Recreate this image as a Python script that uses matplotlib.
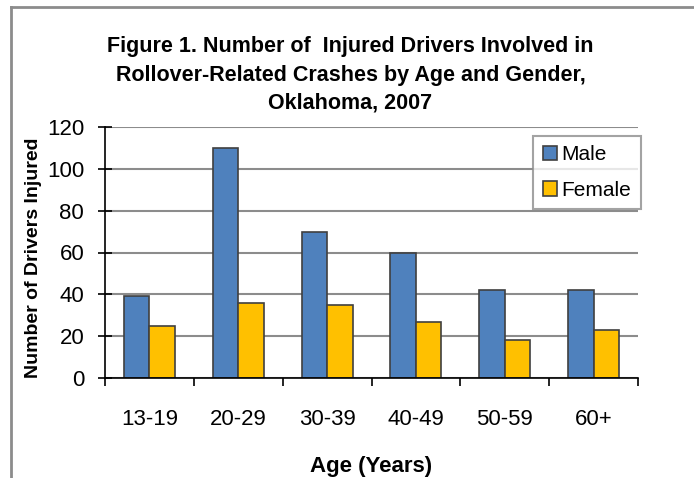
import numpy as np
import matplotlib
matplotlib.use('Agg')
import matplotlib.pyplot as plt
from matplotlib.lines import Line2D

# Datos del gráfico
ages = ['13-19', '20-29', '30-39', '40-49', '50-59', '60+']
male = [39, 110, 70, 60, 42, 42]
female = [25, 36, 35, 27, 18, 23]
y_ticks = [0, 20, 40, 60, 80, 100, 120]

plt.rcParams['font.family'] = ['Liberation Sans Narrow', 'Liberation Sans', 'DejaVu Sans']

W, H = 694, 478
fig = plt.figure(figsize=(W / 100, H / 100), dpi=100)
ax = fig.add_axes([105 / W, 1 - 378 / H, (638 - 105) / W, (378 - 127) / H])

x = np.arange(len(ages))
bw = 0.287
ax.bar(x - bw / 2, male, bw, color='#4F81BD', edgecolor='#404040',
       linewidth=1.2, label='Male', zorder=3)
ax.bar(x + bw / 2, female, bw, color='#FFC000', edgecolor='#404040',
       linewidth=1.2, label='Female', zorder=3)

ax.set_xlim(-0.5, len(ages) - 0.5)
ax.set_ylim(0, 120)
ax.set_yticks(y_ticks)
ax.set_yticklabels([str(v) for v in y_ticks], fontsize=16)
ax.tick_params(axis='y', direction='inout', length=10, width=1.2, pad=10)

ax.set_xticks(x)
ax.set_xticklabels(ages, fontsize=16)
ax.tick_params(axis='x', which='major', length=0, pad=22)
ax.set_xticks(np.arange(len(ages) + 1) - 0.5, minor=True)
ax.tick_params(axis='x', which='minor', direction='out', length=6, width=1.2)

ax.grid(axis='y', color='#8c8c8c', linewidth=1.5, zorder=0)
ax.set_axisbelow(True)
for s in ['top', 'right']:
    ax.spines[s].set_visible(False)
for s in ['left', 'bottom']:
    ax.spines[s].set_linewidth(1.2)
    ax.spines[s].set_zorder(4)

ax.set_ylabel('Number of Drivers Injured', fontsize=14, fontweight='bold')
ax.yaxis.set_label_coords(-0.118, 0.48)
ax.set_xlabel('Age (Years)', fontsize=16, fontweight='bold')
ax.xaxis.set_label_coords(0.5, -0.31)

fig.text(0.505, 1 - 75 / H,
         'Figure 1. Number of  Injured Drivers Involved in\n'
         'Rollover-Related Crashes by Age and Gender,\n'
         'Oklahoma, 2007',
         ha='center', va='center', fontsize=15.5, fontweight='bold',
         linespacing=1.45)

leg = ax.legend(loc='upper right', bbox_to_anchor=(1.005, 0.965),
                fontsize=15, frameon=True, fancybox=False,
                edgecolor='#8c8c8c', handlelength=0.7, handleheight=0.7,
                handletextpad=0.2, labelspacing=0.8, borderpad=0.45,
                borderaxespad=0)
leg.get_frame().set_linewidth(1.5)

# Marco exterior (solo borde superior e izquierdo)
fig.add_artist(Line2D([11 / W, 11 / W], [0, 1 - 7 / H], color='#8c8c8c',
                      linewidth=2, transform=fig.transFigure))
fig.add_artist(Line2D([11 / W, 1], [1 - 7 / H, 1 - 7 / H], color='#8c8c8c',
                      linewidth=2, transform=fig.transFigure))

fig.savefig('out.png', dpi=100)
